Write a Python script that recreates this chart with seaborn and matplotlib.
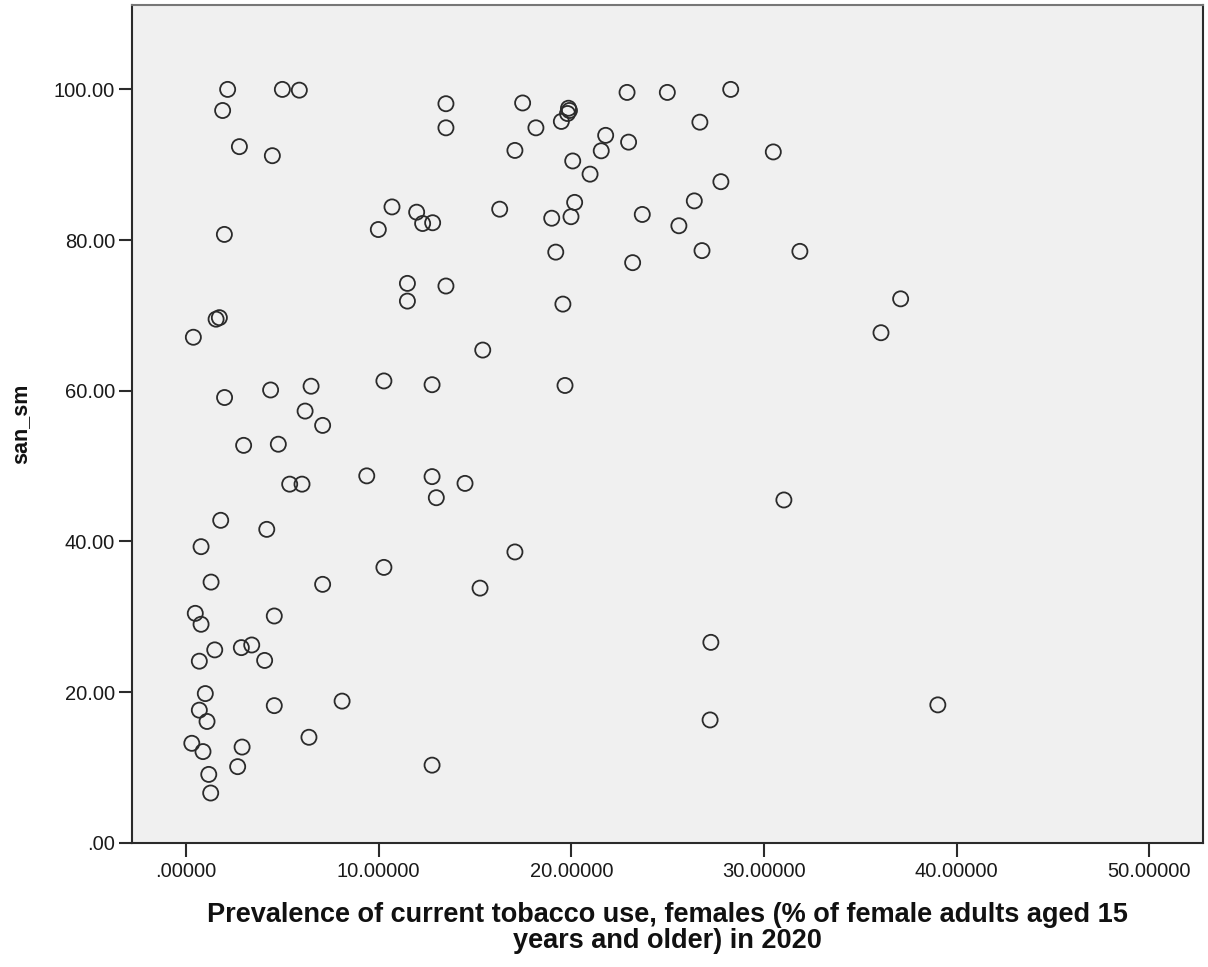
import matplotlib
matplotlib.use("Agg")
import matplotlib.pyplot as plt
import seaborn as sns
import pandas as pd
from matplotlib.ticker import FuncFormatter

# Female tobacco-use prevalence (%) per country, 2020
tobacco_female = [
    2.16, 1.90, 5.00, 5.88, 2.77, 4.48, 13.49, 13.49, 1.99, 10.69,
    11.97, 12.28, 12.80, 9.98, 11.49, 11.49, 13.49, 1.56, 1.73, 0.38,
    17.47, 18.16, 19.48, 19.85, 19.90, 19.80, 22.89, 24.98, 28.27, 26.67,
    21.78, 22.97, 21.55, 20.07, 17.07, 20.97, 30.48, 27.76, 20.17, 19.98,
    18.98, 16.28, 23.68, 26.38, 25.58, 26.78, 31.86, 19.19, 23.18, 19.56,
    37.09, 36.07, 15.40,
    2.00, 4.39, 6.49, 6.18, 7.09, 10.27, 12.77, 19.67, 2.99, 4.79,
    5.38, 6.02, 9.38, 12.77, 14.48, 12.99, 31.03, 1.80, 4.19, 0.78,
    17.07, 10.27, 1.30, 7.09, 15.26, 0.48, 4.58, 0.78,
    1.49, 2.87, 3.41, 0.69, 4.08, 27.24, 1.00, 0.69, 1.09, 4.58,
    8.10, 39.02, 27.20, 0.30, 0.88, 2.91, 6.38, 2.68, 12.77, 1.18,
    1.28,
]

# Safely managed sanitation services (%)
san_sm = [
    100.0, 97.2, 100.0, 99.9, 92.4, 91.2, 98.1, 94.9, 80.75, 84.4,
    83.7, 82.2, 82.3, 81.4, 74.25, 71.9, 73.9, 69.5, 69.7, 67.1,
    98.2, 94.9, 95.75, 97.5, 97.2, 96.8, 99.6, 99.6, 100.0, 95.65,
    93.9, 93.0, 91.85, 90.5, 91.9, 88.75, 91.7, 87.75, 85.0, 83.1,
    82.9, 84.1, 83.4, 85.2, 81.9, 78.6, 78.5, 78.4, 77.0, 71.5,
    72.2, 67.7, 65.4,
    59.1, 60.1, 60.6, 57.3, 55.4, 61.3, 60.8, 60.7, 52.75, 52.9,
    47.6, 47.6, 48.7, 48.6, 47.7, 45.8, 45.5, 42.8, 41.6, 39.3,
    38.6, 36.55, 34.6, 34.3, 33.8, 30.45, 30.1, 29.0,
    25.6, 25.9, 26.25, 24.1, 24.2, 26.6, 19.8, 17.6, 16.1, 18.2,
    18.8, 18.3, 16.3, 13.2, 12.1, 12.7, 14.0, 10.1, 10.3, 9.07,
    6.6,
]

x_ticks = [0, 10, 20, 30, 40, 50]
y_ticks = [0, 20, 40, 60, 80, 100]

x_title = ("Prevalence of current tobacco use, females (% of female adults aged 15\n"
           "years and older) in 2020")
y_title = "san_sm"

df = pd.DataFrame({"tobacco": tobacco_female, "san_sm": san_sm})

sns.set_style("ticks")
plt.rcParams["font.family"] = ["Liberation Sans", "DejaVu Sans"]

fig = plt.figure(figsize=(12.08, 9.67), dpi=100)
ax = fig.add_axes([0.1095, 0.1285, 0.886, 0.8663])
ax.set_facecolor("#f0f0f0")

sns.scatterplot(data=df, x="tobacco", y="san_sm", ax=ax, marker="o",
                s=118, facecolor="none", edgecolor="#2b2b2b", linewidth=1.3,
                legend=False, zorder=3)

ax.set_xlim(-2.79, 52.76)
ax.set_ylim(0, 111.2)
ax.set_xticks(x_ticks)
ax.set_yticks(y_ticks)


def spss_fmt(decimals):
    def f(v, pos):
        s = f"{v:.{decimals}f}"
        if s.startswith("0."):
            s = s[1:]
        return s
    return FuncFormatter(f)


ax.xaxis.set_major_formatter(spss_fmt(5))
ax.yaxis.set_major_formatter(spss_fmt(2))

for side in ["left", "bottom", "right", "top"]:
    ax.spines[side].set_visible(True)
    ax.spines[side].set_color("#2b2b2b")
    ax.spines[side].set_linewidth(1.5)
ax.spines["top"].set_color("#777777")

ax.tick_params(axis="x", direction="out", length=10, width=1.5, color="#2b2b2b",
               labelsize=14.5, pad=4, labelcolor="#1a1a1a")
ax.tick_params(axis="y", direction="out", length=9.5, width=1.5, color="#2b2b2b",
               labelsize=14.5, pad=3, labelcolor="#1a1a1a")

ax.set_xlabel(x_title, fontsize=19.5, fontweight="bold", labelpad=15,
              linespacing=1.0, color="#111111")
ax.set_ylabel(y_title, fontsize=15.5, fontweight="bold", labelpad=16,
              color="#111111")

fig.savefig("out.png", dpi=100, facecolor="white")
